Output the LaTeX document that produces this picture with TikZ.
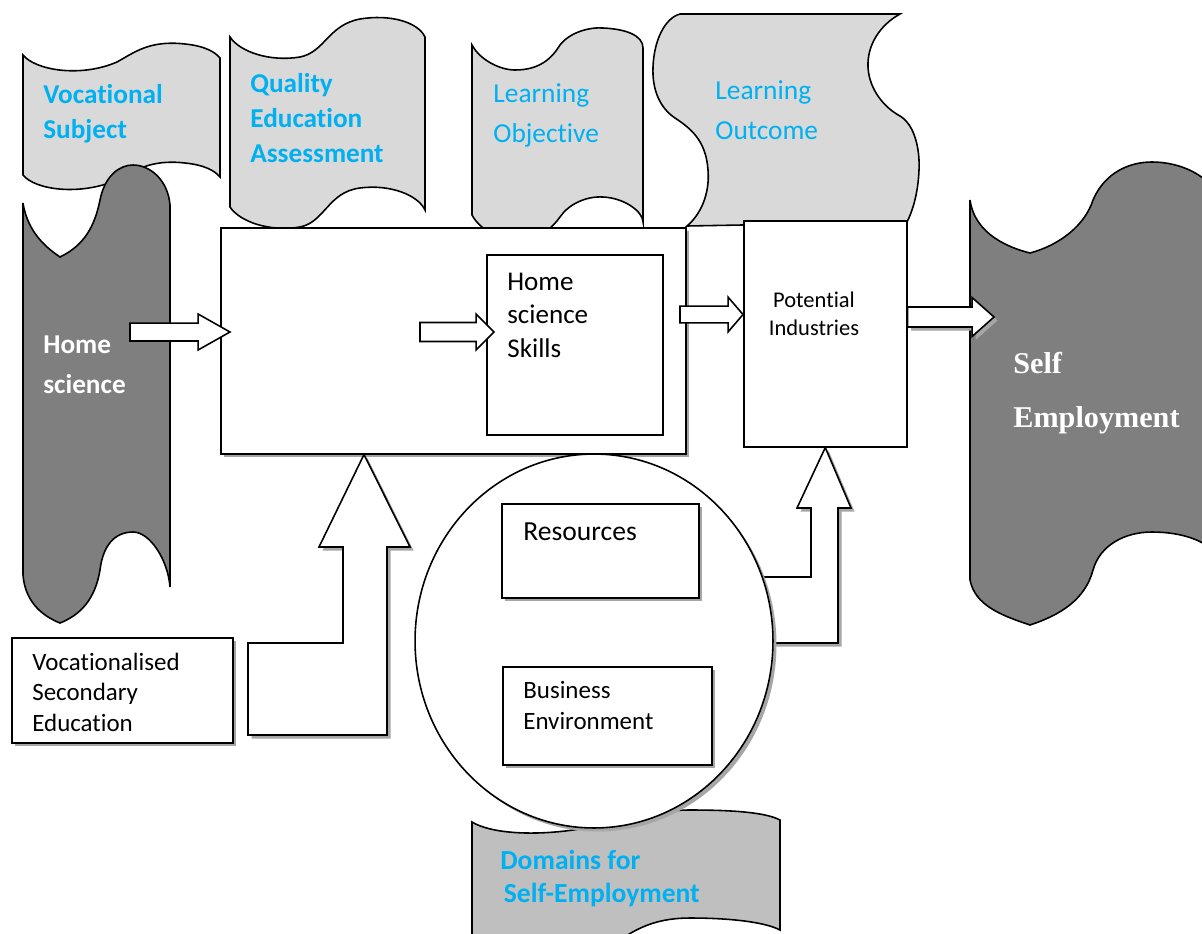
\documentclass[tikz,border=0pt]{standalone}
\usepackage{fontspec}
\setmainfont{Carlito}[Ligatures=NoCommon]
\newfontfamily\timesfont{Liberation Serif}
\usetikzlibrary{shapes.geometric,shadows,calc}

\definecolor{bannerlight}{HTML}{D9D9D9}
\definecolor{bannerdark}{HTML}{7F7F7F}
\definecolor{domaingray}{HTML}{BFBFBF}
\definecolor{labelblue}{HTML}{00B0F0}

\tikzset{
	banner/.style={draw, line width=0.9pt, fill=bannerlight},
	darkbanner/.style={draw, line width=0.9pt, fill=bannerdark},
	box/.style={draw, line width=0.9pt, fill=white, rectangle, inner sep=0pt, anchor=north west},
	shadowed/.style={drop shadow={shadow xshift=2pt, shadow yshift=-2pt, fill=black!35, opacity=1}},
	blockarrow/.style={draw, line width=0.9pt, fill=white, line join=miter},
	txt/.style={inner sep=0pt, anchor=base west, align=left},
	bluebold/.style={text=labelblue, font=\bfseries\fontsize{15.5}{19.8}\selectfont},
	bluelight/.style={text=labelblue, font=\fontsize{15.6}{22.4}\selectfont}
}

% horizontal block arrow: [style] shaft half, head half, head length, from, to
\newcommand{\harrow}[6][]{%
	\draw[blockarrow,#1] let \p1=(#5), \p2=(#6) in
		(\x1,\y1+#2) -- (\x2-#4,\y1+#2) -- (\x2-#4,\y1+#3) -- (\x2,\y1)
		-- (\x2-#4,\y1-#3) -- (\x2-#4,\y1-#2) -- (\x1,\y1-#2) -- cycle;}

\begin{document}
\begin{tikzpicture}[x=0.02cm, y=-0.02cm]
	\useasboundingbox (0,0) rectangle (1202,933);
	
	% light banners on top
	\draw[banner] (23,55) .. controls (35,70) and (80,78) .. (117,62) .. controls (135,52) and (150,40) .. (185,44)
		.. controls (205,46) and (215,52) .. (220,58) -- (220,177) .. controls (215,171) and (205,165) .. (185,163)
		.. controls (150,159) and (135,171) .. (117,180) .. controls (80,196) and (35,190) .. (23,175) -- cycle;
	\draw[banner] (230,37) .. controls (240,52) and (270,62) .. (300,57) .. controls (325,52) and (328,25) .. (360,19)
		.. controls (390,14) and (418,22) .. (425,37) -- (425,210) .. controls (418,195) and (390,184) .. (360,188)
		.. controls (328,192) and (325,222) .. (300,227) .. controls (270,232) and (240,222) .. (230,207) -- cycle;
	\draw[banner] (472,45) .. controls (480,60) and (500,70) .. (515,70) .. controls (540,70) and (552,58) .. (560,45)
		.. controls (570,32) and (590,27) .. (603,28) .. controls (625,29) and (643,35) .. (643,48) -- (643,222)
		.. controls (643,212) and (625,198) .. (603,197) .. controls (585,196) and (568,205) .. (560,217)
		.. controls (552,228) and (540,240) .. (515,240) .. controls (500,240) and (480,230) .. (472,215) -- cycle;
	\draw[banner] (680,14) -- (900,14) .. controls (880,25) and (867,45) .. (868,67) .. controls (869,90) and (885,108) .. (900,116)
		.. controls (915,125) and (920,150) .. (919,170) .. controls (918,195) and (912,212) .. (907,222) -- (687,226)
		.. controls (700,215) and (710,195) .. (708,170) .. controls (706,140) and (690,128) .. (675,118)
		.. controls (660,108) and (652,90) .. (653,67) .. controls (654,40) and (665,18) .. (680,14) -- cycle;
	\draw[banner, fill=domaingray] (472,822) .. controls (490,833) and (530,836) .. (573,830) .. controls (620,823) and (650,810) .. (690,810)
		.. controls (730,810) and (765,812) .. (780,820) -- (780,930) .. controls (765,922) and (730,918) .. (690,918)
		.. controls (660,918) and (640,926) .. (620,940) -- (472,940) -- cycle;
	
	% dark banners
	\draw[darkbanner] (23,203) .. controls (28,235) and (50,250) .. (60,257) .. controls (85,245) and (95,225) .. (100,200)
		.. controls (105,175) and (120,165) .. (133,165) .. controls (150,165) and (168,180) .. (170,205) -- (170,587)
		.. controls (168,560) and (150,532) .. (133,532) .. controls (115,532) and (103,545) .. (100,570)
		.. controls (95,600) and (80,615) .. (60,623) .. controls (40,615) and (25,600) .. (23,575) -- cycle;
	\draw[darkbanner] (970,200) .. controls (975,235) and (1010,248) .. (1030,253) .. controls (1060,245) and (1085,225) .. (1093,200)
		.. controls (1105,172) and (1130,162) .. (1152,162) .. controls (1180,162) and (1210,175) .. (1220,200) -- (1220,560)
		.. controls (1210,540) and (1180,532) .. (1152,532) .. controls (1125,532) and (1100,545) .. (1093,570)
		.. controls (1085,600) and (1060,615) .. (1030,625) .. controls (1000,615) and (975,605) .. (970,580) -- cycle;
	
	% boxes
	\node[box, shadowed, minimum width=9.30cm, minimum height=4.52cm] (frame) at (220,227) {};
	\node[box, minimum width=3.52cm, minimum height=3.60cm] (skills) at (486,254) {};
	\node[box, minimum width=3.26cm, minimum height=4.52cm] (pot) at (743,220) {};
	
	% block arrows
	\coordinate (a1s) at (130,332);
	\coordinate (a1e) at (230,332);
	\coordinate (a2s) at (420,332);
	\coordinate (a2e) at (494,332);
	\coordinate (a3s) at (680,314.5);
	\coordinate (a4e) at (994,317);
	\harrow{5.1pt}{10.2pt}{18.1pt}{a1s}{a1e}
	\harrow{5.4pt}{10.2pt}{10.2pt}{a2s}{a2e}
	\harrow{4.8pt}{9.9pt}{8.5pt}{a3s}{pot.west |- a3s}
	\harrow[shadowed]{5.7pt}{11.1pt}{12.5pt}{pot.east |- a4e}{a4e}
	
	% bent arrows
	\draw[blockarrow, shadowed] (248,643) -- (343,643) -- (343,547) -- (319,547) -- ($(frame.south west)+(144,0)$)
		-- (410,547) -- (387,547) -- (387,735) -- (248,735) -- cycle;
	\draw[blockarrow, shadowed] (760,577) -- (811,577) -- (811,508) -- (797,508) -- (pot.south)
		-- (851,508) -- (838,508) -- (838,643) -- (760,643) -- cycle;
	
	% domains circle
	\node[draw, ellipse, fill=white, shadowed, line width=0.9pt, inner sep=0pt,
		minimum width=7.16cm, minimum height=7.48cm] (dom) at (594,641) {};
	\node[box, shadowed, minimum width=3.94cm, minimum height=1.88cm] (res) at (501,503) {};
	\node[box, shadowed, minimum width=4.18cm, minimum height=1.96cm] (bus) at (502,666) {};
	\node[box, shadowed, minimum width=4.42cm, minimum height=2.10cm] (vse) at (11,637) {};
	
	% labels (base = last line)
	\node[txt, bluebold] (voclbl) at (43,138) {Vocational\\Subject};
	\node[txt, bluebold] (qealbl) at (250,162) {Quality\\Education\\Assessment};
	\node[txt, bluelight] (objlbl) at (493,142) {Learning\\Objective};
	\node[txt, bluelight] (outlbl) at (715,139) {Learning\\Outcome};
	\node[txt, text=white, font=\bfseries\fontsize{15.5}{22.7}\selectfont] (hslbl) at (43,393) {Home\\science};
	\node[txt, font=\fontsize{15.4}{19}\selectfont] (skillslbl) at (507,357) {Home\\science\\Skills};
	\node[inner sep=0pt, anchor=base, align=center, font=\fontsize{12.8}{15.9}\selectfont] (potlbl) at (814,335) {Potential\\Industries};
	\node[txt, text=white, font=\timesfont\bfseries\fontsize{17.2}{30.6}\selectfont] (selflbl) at (1013,427) {Self\\Employment};
	\node[txt, font=\fontsize{15.7}{18}\selectfont] (reslbl) at (523,540) {Resources};
	\node[txt, font=\fontsize{14.2}{17.6}\selectfont] (buslbl) at (523,729) {Business\\Environment};
	\node[txt, font=\fontsize{14.2}{17.3}\selectfont] (vselbl) at (32,731) {Vocationalised\\Secondary\\Education};
	\node[txt, bluebold, font=\bfseries\fontsize{15.7}{18.7}\selectfont] (domlbl) at (500,902) {Domains for\\\hspace*{5\pgflinewidth}Self-Employment};
\end{tikzpicture}
\end{document}
